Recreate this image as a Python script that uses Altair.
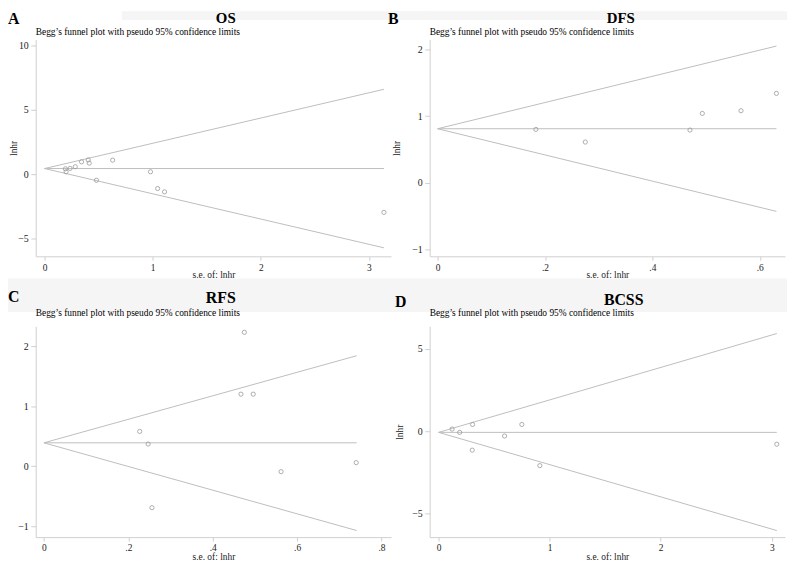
import altair as alt
import pandas as pd

FONT = "Liberation Serif"

# ---------------- data ----------------
os_se = [0.193, 0.199, 0.236, 0.284, 0.342, 0.404, 0.413, 0.480, 0.630, 0.980, 1.046, 1.110, 3.140]
os_lnhr = [0.43, 0.20, 0.46, 0.59, 0.97, 1.12, 0.87, -0.46, 1.10, 0.20, -1.10, -1.36, -2.95]

dfs_se = [0.183, 0.275, 0.470, 0.493, 0.565, 0.631]
dfs_lnhr = [0.80, 0.61, 0.79, 1.04, 1.08, 1.34]

rfs_se = [0.227, 0.247, 0.256, 0.467, 0.475, 0.496, 0.562, 0.740]
rfs_lnhr = [0.58, 0.37, -0.69, 1.20, 2.23, 1.20, -0.09, 0.06]

bcss_se = [0.122, 0.190, 0.306, 0.303, 0.594, 0.750, 0.912, 3.045]
bcss_lnhr = [0.12, -0.08, 0.40, -1.16, -0.30, 0.40, -2.10, -0.80]

# funnel: pooled estimate, largest s.e., pseudo 95% limits at that s.e.
pooled = [0.45, 0.81, 0.39, -0.08]
se_max = [3.14, 0.631, 0.741, 3.045]
upper_end = [6.60, 2.05, 1.84, 5.92]
lower_end = [-5.70, -0.43, -1.07, -6.04]

panel_letters = ["A", "B", "C", "D"]
panel_titles = ["OS", "DFS", "RFS", "BCSS"]
subtitle = "Begg\u2019s funnel plot with pseudo 95% confidence limits"
x_title = "s.e. of: lnhr"
y_title = "lnhr"

x_ticks = [[0, 1, 2, 3], [0, 0.2, 0.4, 0.6], [0, 0.2, 0.4, 0.6, 0.8], [0, 1, 2, 3]]
y_ticks = [[-5, 0, 5, 10], [-1, 0, 1, 2], [-1, 0, 1, 2], [-5, 0, 5]]

se_all = [os_se, dfs_se, rfs_se, bcss_se]
lnhr_all = [os_lnhr, dfs_lnhr, rfs_lnhr, bcss_lnhr]

# ---------------- layout / style (not data) ----------------
W = 359
heights = [219, 219, 213, 213]
x_domains = [[-0.082, 3.206], [-0.0148, 0.647], [-0.0194, 0.8226], [-0.08, 3.119]]
y_domains = [[-6.36, 10.46], [-1.104, 2.148], [-1.18, 2.33], [-6.44, 6.36]]
ytitle_x = [-22, -33, None, -30]
letter_pos = [(-28, -28.7), (-42, -28.7), (-28, -37.4), (-35, -32.4)]
title_pos = [(192, -28.7), (193, -28.7), (187, -36.4), (196, -34.1)]
title_size = [15, 15, 16, 16]
sub_y = [-5, -5, -10, -10]
xtitle_y = [21, 21, 23, 23]
x_label_pad = [2, 2, 1.5, 1.5]
bands = [(87, 398, -28.7, -19.7), (-39, 361, -28.7, -19.7),
         (-28, 398, -48.4, -14.4), (-39, 361, -48.4, -14.4)]

LINE_C = "#bdbdbd"
PT_C = "#9a9a9a"
AXIS_C = "#cfcfcf"
TXT_C = "#222222"


def text_layer(txt, x, y, size, bold, align, baseline):
    return alt.Chart(pd.DataFrame({"t": [txt]})).mark_text(
        font=FONT, fontSize=size, fontWeight="bold" if bold else "normal",
        align=align, baseline=baseline, color="black"
    ).encode(text="t:N", x=alt.value(x), y=alt.value(y))


def panel(i):
    h = heights[i]
    pts = pd.DataFrame({"se": se_all[i], "lnhr": lnhr_all[i]})
    lines = pd.DataFrame({
        "se": [0, se_max[i], 0, se_max[i], 0, se_max[i]],
        "lnhr": [pooled[i], upper_end[i], pooled[i], lower_end[i], pooled[i], pooled[i]],
        "line": ["upper", "upper", "lower", "lower", "pooled", "pooled"],
    })
    if i in (1, 2):
        xfmt = "datum.value == 0 ? '0' : substring(format(datum.value, '.1f'), 1)"
    else:
        xfmt = "format(datum.value, 'd')"
    x_axis = alt.Axis(values=x_ticks[i], labelExpr=xfmt, tickSize=4, labelPadding=x_label_pad[i],
                      labelFontSize=9.5,
                      titleY=xtitle_y[i], titleBaseline="alphabetic", grid=False)
    if ytitle_x[i] is not None:
        y_axis = alt.Axis(values=y_ticks[i], tickSize=5, labelPadding=2.5, grid=False,
                          titleX=ytitle_x[i], titleY=h / 2, titleAngle=270,
                          titleBaseline="middle", titleAlign="center")
        ytitle = y_title
    else:
        y_axis = alt.Axis(values=y_ticks[i], tickSize=5, labelPadding=2.5, grid=False)
        ytitle = None
    x = alt.X("se:Q", scale=alt.Scale(domain=x_domains[i], nice=False, zero=False),
              axis=x_axis, title=x_title)
    y = alt.Y("lnhr:Q", scale=alt.Scale(domain=y_domains[i], nice=False, zero=False),
              axis=y_axis, title=ytitle)

    bx1, bx2, by1, by2 = bands[i]
    band = alt.Chart(pd.DataFrame({"b": [1]})).mark_rect(color="#f5f5f5").encode(
        x=alt.value(bx1), x2=alt.value(bx2), y=alt.value(by1), y2=alt.value(by2))

    line_layer = alt.Chart(lines).mark_line(color=LINE_C, strokeWidth=1).encode(
        x=x, y=y, detail="line:N")
    pt_layer = alt.Chart(pts).mark_point(shape="circle", filled=False, color=PT_C,
                                         size=18, strokeWidth=0.8, opacity=1).encode(x=x, y=y)

    lx, ly = letter_pos[i]
    tx, ty = title_pos[i]
    letter = text_layer(panel_letters[i], lx, ly, 16, True, "left", "top")
    title = text_layer(panel_titles[i], tx, ty, title_size[i], True, "center", "top")
    sub = text_layer(subtitle, 0, sub_y[i], 9.5, False, "left", "alphabetic")

    return alt.layer(band, line_layer, pt_layer, letter, title, sub).properties(width=W, height=h)


chart = alt.concat(
    panel(0), panel(1), panel(2), panel(3),
    columns=2,
    spacing={"row": 70.7, "column": 39},
    bounds="flush",
).properties(
    padding=0, background="white"
).configure_view(
    strokeWidth=0
).configure_axis(
    domainColor=AXIS_C, tickColor=AXIS_C, domainWidth=1, tickWidth=1,
    labelFont=FONT, labelFontSize=10, labelColor=TXT_C,
    titleFont=FONT, titleFontSize=9.5, titleFontWeight="normal", titleColor=TXT_C,
)

chart.save("out.html", embed_options={"renderer": "svg", "actions": False})
